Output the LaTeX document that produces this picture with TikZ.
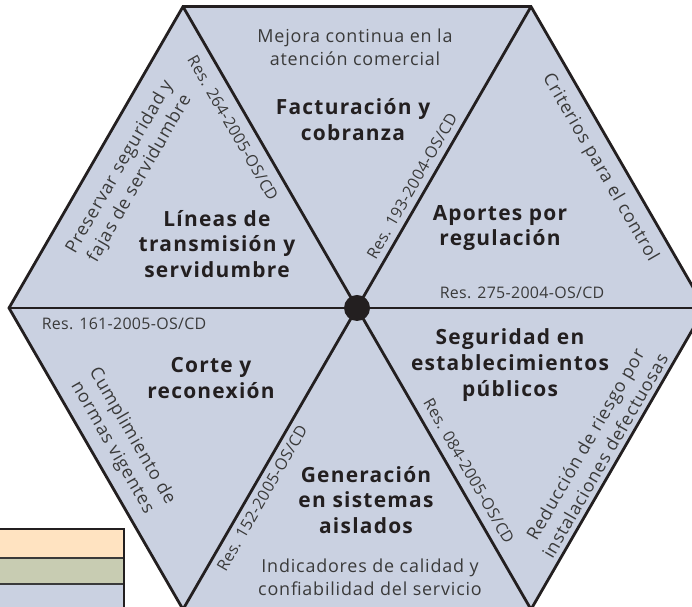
\documentclass[tikz,border=0pt]{standalone}
\usepackage{fontspec}
\setmainfont{Open Sans}
\newfontfamily\fuentetitulo{Open Sans}[LetterSpace=6]
\newfontfamily\fuentenota{Open Sans}[LetterSpace=4.5]
\newfontfamily\fuenteres{Open Sans}[LetterSpace=2]
\usepackage{tikz}
\usetikzlibrary{calc}
\definecolor{hexfondo}{RGB}{202,209,225}
\definecolor{naranjaclaro}{RGB}{255,227,193}
\definecolor{verdegris}{RGB}{200,204,178}
\definecolor{textogris}{RGB}{58,58,58}
\definecolor{textonegro}{RGB}{35,31,32}

\tikzset{
    titulo/.style={font=\fuentetitulo\fontsize{21}{26}\selectfont\bfseries, text=textonegro, align=center, inner sep=0pt},
    nota/.style={font=\fuentenota\fontsize{18}{23}\selectfont, text=textogris, align=center, inner sep=0pt},
    resol/.style={font=\fuenteres\fontsize{16}{18}\selectfont, text=textogris, inner sep=0pt},
    arista/.style={line width=2.8bp, draw=textonegro, line join=miter}
}

\begin{document}
\begin{tikzpicture}[x=1bp, y=1bp]
    \useasboundingbox (0,0) rectangle (692,607);
    \clip (0,0) rectangle (692,607);

    % Vértices del hexágono
    \coordinate (centro) at (357,299);
    \coordinate (vDer) at (705,299);
    \coordinate (vSupDer) at (531,600.4);
    \coordinate (vSupIzq) at (183,600.4);
    \coordinate (vIzq) at (9,299);
    \coordinate (vInfIzq) at (183,-2.4);
    \coordinate (vInfDer) at (531,-2.4);

    % Leyenda de colores
    \fill[naranjaclaro] (-5,49) rectangle (124,78);
    \fill[verdegris] (-5,23) rectangle (124,49);
    \fill[hexfondo] (-5,-5) rectangle (124,23);
    \draw[textogris, line width=1.5bp] (-5,49) -- (124,49);
    \draw[textogris, line width=1.5bp] (-5,23) -- (124,23);
    \draw[textonegro, line width=2bp] (-5,78) -- (124,78) -- (124,-5);

    % Hexágono
    \draw[arista, fill=hexfondo] (vDer) -- (vSupDer) -- (vSupIzq) -- (vIzq) -- (vInfIzq) -- (vInfDer) -- cycle;

    % Radios
    \draw[arista] (centro) -- (vDer);
    \draw[arista] (centro) -- (vSupDer);
    \draw[arista] (centro) -- (vSupIzq);
    \draw[arista] (centro) -- (vIzq);
    \draw[arista] (centro) -- (vInfIzq);
    \draw[arista] (centro) -- (vInfDer);
    \node[circle, fill=textonegro, minimum size=26bp, inner sep=0pt] (punto) at (centro) {};

    % Facturación y cobranza
    \node[nota] (mejora) at (355,560) {Mejora continua en la\\atención comercial};
    \node[titulo] (factura) at (353,487) {Facturación y\\cobranza};
    \node[resol, rotate=60] (res193) at (412,421) {Res. 193-2004-OS/CD};

    % Aportes por regulación
    \node[nota, rotate=-60] (criterios) at (600,439) {Criterios para el control};
    \node[titulo] (aportes) at (500,379) {Aportes por\\regulación};
    \node[resol] (res275) at (522,314) {Res. 275-2004-OS/CD};

    % Seguridad en establecimientos públicos
    \node[nota, rotate=60] (reduccion) at (595,157) {Reducción de riesgo por\\instalaciones defectuosas};
    \node[titulo] (seguridad) at (510,242) {Seguridad en\\establecimientos\\públicos};
    \node[resol, rotate=-60] (res084) at (469,136) {Res. 084-2005-OS/CD};

    % Generación en sistemas aislados
    \node[nota] (indicadores) at (370,30) {Indicadores de calidad y\\confiabilidad del servicio};
    \node[titulo] (generacion) at (366,107) {Generación\\en sistemas\\aislados};
    \node[resol, rotate=60] (res152) at (262,109) {Res. 152-2005-OS/CD};

    % Corte y reconexión
    \node[nota, rotate=-60] (cumplimiento) at (122,165) {Cumplimiento de\\normas vigentes};
    \node[titulo] (corte) at (211,229) {Corte y\\reconexión};
    \node[resol] (res161) at (124,283) {Res. 161-2005-OS/CD};

    % Líneas de transmisión y servidumbre
    \node[nota, rotate=60] (preservar) at (130,434) {Preservar seguridad y\\fajas de servidumbre};
    \node[titulo] (lineas) at (217,363) {Líneas de\\transmisión y\\servidumbre};
    \node[resol, rotate=-60] (res264) at (233,479) {Res. 264-2005-OS/CD};
\end{tikzpicture}
\end{document}
